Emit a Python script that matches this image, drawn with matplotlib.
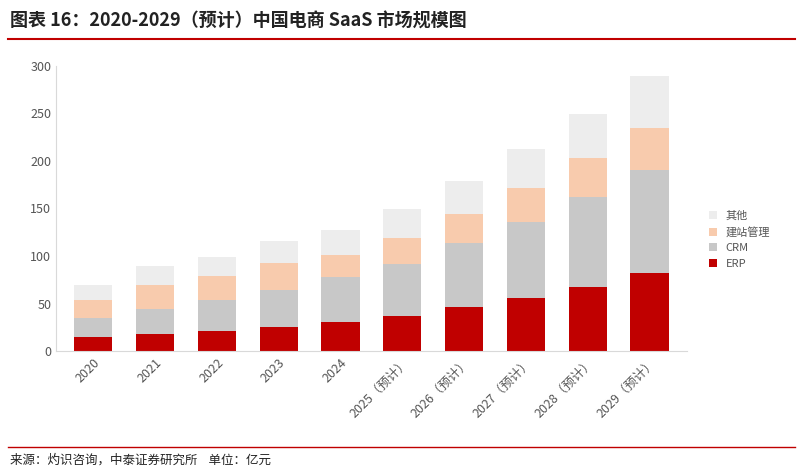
import matplotlib.pyplot as plt
import numpy as np

plt.rcParams['font.family'] = ['Noto Sans CJK SC', 'DejaVu Sans']

years = ['2020', '2021', '2022', '2023', '2024', '2025（预计）', '2026（预计）',
         '2027（预计）', '2028（预计）', '2029（预计）']
erp = [15, 18, 21, 25, 30.5, 37, 46, 56, 67, 82]
crm = [20, 26, 33, 39, 47.5, 55, 68, 80, 95, 108]
site = [19, 26, 25, 29, 23, 27, 30, 36, 41, 45]
other = [16, 20, 20, 23, 26, 30, 35, 40, 46, 54]

fig = plt.figure(figsize=(8.03, 4.70), dpi=100)
ax = fig.add_axes([0.07, 0.253, 0.785, 0.607])

x = np.arange(len(years))
w = 0.62
b1 = np.array(erp)
b2 = b1 + np.array(crm)
b3 = b2 + np.array(site)
ax.bar(x, other, w, bottom=b3, color='#EDEDED', label='其他')
ax.bar(x, site, w, bottom=b2, color='#F8CBAD', label='建站管理')
ax.bar(x, crm, w, bottom=b1, color='#C8C8C8', label='CRM')
ax.bar(x, erp, w, color='#C00000', label='ERP')

ax.set_ylim(0, 300)
ax.set_xlim(-0.6, len(years) - 0.4)
ax.set_yticks(range(0, 301, 50))
ax.set_xticks(x)
ax.set_xticklabels(years, rotation=45, ha='right', rotation_mode='anchor', fontsize=9, color='#555555')
ax.tick_params(axis='y', labelsize=9, colors='#555555', length=0)
ax.tick_params(axis='x', length=0)
for s in ['top', 'right']:
    ax.spines[s].set_visible(False)
ax.spines['left'].set_color('#D9D9D9')
ax.spines['bottom'].set_color('#D9D9D9')

ax.legend(loc='center left', bbox_to_anchor=(1.02, 0.39), frameon=False, fontsize=8,
          handlelength=0.7, handleheight=0.7, labelcolor='#555555')

fig.text(0.012, 0.955, '图表 16：2020-2029（预计）中国电商 SaaS 市场规模图', fontsize=13,
         fontweight='bold', va='center', color='#222222')
fig.add_artist(plt.Line2D([0.01, 0.99], [0.918, 0.918], color='#C00000', lw=1.5))
fig.add_artist(plt.Line2D([0.01, 0.99], [0.049, 0.049], color='#C00000', lw=1))
fig.text(0.012, 0.022, '来源：灼识咨询，中泰证券研究所    单位：亿元', fontsize=9, va='center', color='#222222')

fig.savefig('out.png')
